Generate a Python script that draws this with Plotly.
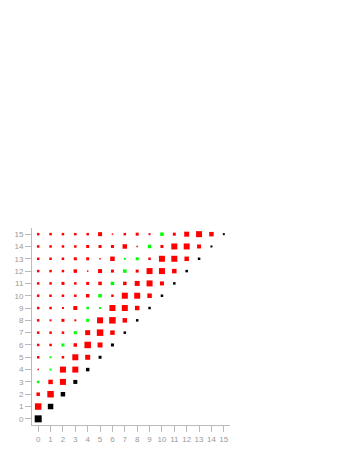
import plotly.graph_objects as go

# Each row y lists cells for x = 0..y : (magnitude, kind)
# kind: 'r' = positive (red), 'g' = negative (green), 'd' = diagonal (black)
rows = [
    [(7, 'd')],
    [(6.5, 'r'), (5.5, 'd')],
    [(3.5, 'r'), (6.5, 'r'), (4.5, 'd')],
    [(2.5, 'g'), (4.5, 'r'), (6, 'r'), (4, 'd')],
    [(1.5, 'r'), (2, 'g'), (6, 'r'), (6, 'r'), (3.5, 'd')],
    [(2.5, 'r'), (2, 'g'), (2.5, 'r'), (6, 'r'), (5, 'r'), (3, 'd')],
    [(2.5, 'r'), (2.5, 'r'), (3, 'g'), (3.5, 'r'), (6.5, 'r'), (5, 'r'), (3, 'd')],
    [(2.5, 'r'), (2.5, 'r'), (2.5, 'r'), (3, 'g'), (5, 'r'), (6.5, 'r'), (4.5, 'r'), (2.5, 'd')],
    [(2.5, 'r'), (2, 'r'), (3, 'r'), (2, 'r'), (3, 'g'), (6, 'r'), (6.5, 'r'), (4.5, 'r'), (2.5, 'd')],
    [(2.5, 'r'), (2.5, 'r'), (2, 'r'), (4, 'r'), (2.5, 'g'), (2, 'g'), (6, 'r'), (6, 'r'), (4.5, 'r'), (2.5, 'd')],
    [(2.5, 'r'), (2.5, 'r'), (2.5, 'r'), (2.5, 'r'), (3.5, 'r'), (3.5, 'g'), (2.5, 'r'), (6, 'r'), (6, 'r'), (4.5, 'r'), (2.5, 'd')],
    [(2.5, 'r'), (2.5, 'r'), (3, 'r'), (2.5, 'r'), (3, 'r'), (3.5, 'r'), (3.5, 'g'), (3.5, 'r'), (5, 'r'), (6, 'r'), (4, 'r'), (2.5, 'd')],
    [(2.5, 'r'), (2.5, 'r'), (2.5, 'r'), (3.5, 'r'), (1.5, 'r'), (4, 'r'), (3, 'r'), (3.5, 'g'), (3, 'r'), (6, 'r'), (6, 'r'), (4.5, 'r'), (2.5, 'd')],
    [(2.5, 'r'), (2.5, 'r'), (2.5, 'r'), (3, 'r'), (3, 'r'), (1.5, 'r'), (4.5, 'r'), (2, 'g'), (3, 'g'), (2.5, 'r'), (6, 'r'), (6, 'r'), (4.5, 'r'), (2.5, 'd')],
    [(2.5, 'r'), (2.5, 'r'), (2.5, 'r'), (2.5, 'r'), (3, 'r'), (3, 'r'), (3, 'r'), (4.5, 'r'), (1.5, 'r'), (3.5, 'g'), (3, 'r'), (6, 'r'), (6, 'r'), (4, 'r'), (2, 'd')],
    [(2.5, 'r'), (2.5, 'r'), (2.5, 'r'), (2.5, 'r'), (2.5, 'r'), (4, 'r'), (1.5, 'r'), (2.5, 'r'), (3, 'r'), (2, 'r'), (3.5, 'g'), (3, 'r'), (5, 'r'), (6, 'r'), (4.5, 'r'), (2, 'd')],
]
tick_vals = list(range(16))
tick_text = [str(v) for v in tick_vals]

kind_color = {'r': '#ff0000', 'g': '#00ff00', 'd': '#000000'}

fig = go.Figure()
for kind in ['r', 'g', 'd']:
    xs, ys, ss = [], [], []
    for y, row in enumerate(rows):
        for x, (v, k) in enumerate(row):
            if k == kind:
                xs.append(x)
                ys.append(y)
                ss.append(v)
    fig.add_trace(go.Scatter(
        x=xs, y=ys, mode='markers',
        marker=dict(symbol='square', size=ss, color=kind_color[kind],
                    opacity=1, line=dict(width=0)),
        showlegend=False, hoverinfo='skip'))

axis_common = dict(
    range=[-0.5, 15.5], tickvals=tick_vals, ticktext=tick_text, automargin=False,
    showgrid=False, zeroline=False, showline=True, linecolor='#bbbbbb', linewidth=1,
    ticks='outside', ticklen=6, tickcolor='#bbbbbb', tickwidth=1,
    tickfont=dict(size=8, color='#999999', family='Liberation Sans'),
)
fig.update_xaxes(**axis_common)
fig.update_yaxes(**axis_common)
fig.update_layout(
    width=354, height=458,
    margin=dict(l=24, r=132, t=220, b=41),
    plot_bgcolor='white', paper_bgcolor='white',
)
fig.write_html("out.html")
